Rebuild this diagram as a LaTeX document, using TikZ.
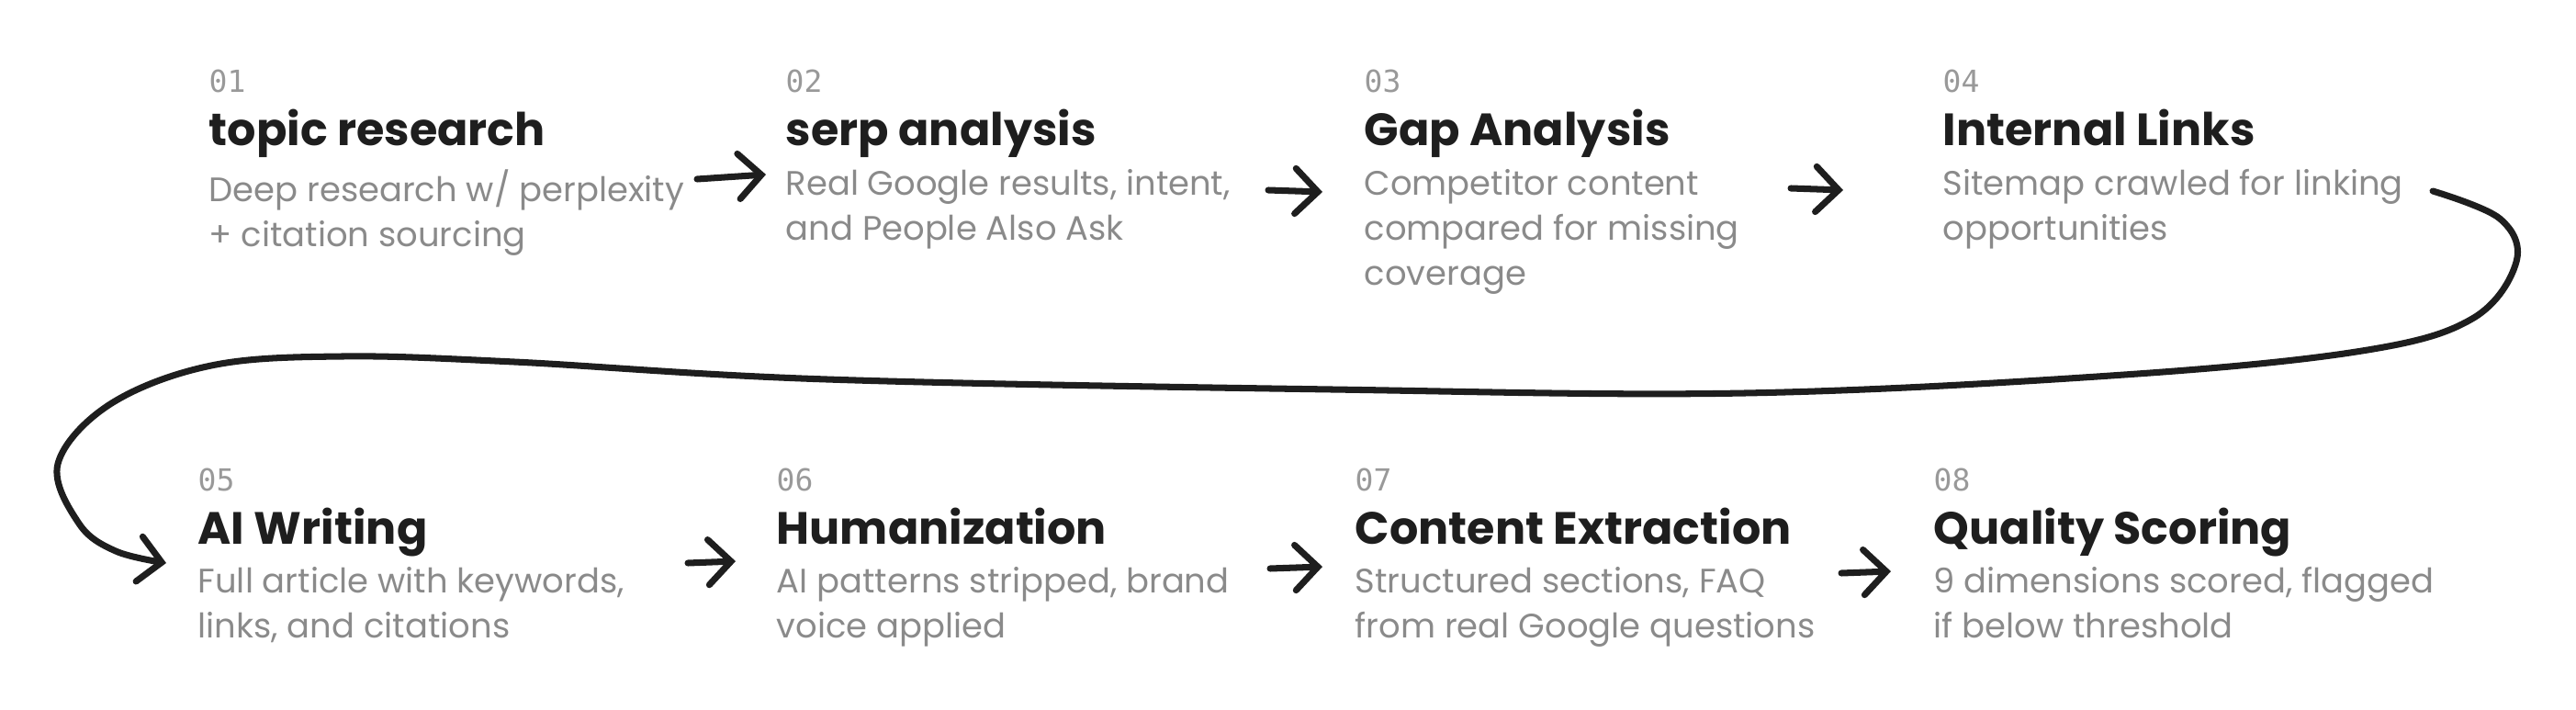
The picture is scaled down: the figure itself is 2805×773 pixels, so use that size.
\documentclass[tikz,border=0pt]{standalone}
\usepackage{fontspec}
\setmainfont{Poppins}
\newfontfamily\numfont{DejaVu Sans Mono}
\usetikzlibrary{arrows.meta}
\definecolor{inkblack}{HTML}{1E1E1E}
\definecolor{descgray}{HTML}{8A8A8A}
\definecolor{numgray}{HTML}{999999}

\tikzset{
  stepnum/.style={anchor=base west, inner sep=0pt, text=numgray,
    font=\numfont\fontsize{9.4}{11}\selectfont},
  steptitle/.style={anchor=base west, inner sep=0pt, text=inkblack,
    font=\bfseries\fontsize{14}{17}\selectfont},
  stepdesc/.style={anchor=north west, inner sep=0pt, align=left, text=descgray,
    font=\fontsize{10.5}{13.9}\selectfont, execute at begin node=\strut},
  flow/.style={draw=inkblack, line width=2pt, line cap=round, line join=round,
    -{Straight Barb[length=7pt, width=14pt, line cap=round]}}
}

\begin{document}
\begin{tikzpicture}[x=0.01cm, y=-0.01cm]
    \useasboundingbox (0,0) rectangle (2805,773);
    % steps: number, title, description (strut top = baseline - 34)
    \foreach \k/\px/\py/\ttl/\dsc in {
        01/227/0/{topic research}/{Deep research w/ perplexity\\+ citation sourcing},
        02/855/0/{serp analysis}/{Real Google results, intent,\\and People Also Ask},
        03/1485/0/{Gap Analysis}/{Competitor content\\compared for missing\\coverage},
        04/2115/0/{Internal Links}/{Sitemap crawled for linking\\opportunities},
        05/215/433/{AI Writing}/{Full article with keywords,\\links, and citations},
        06/845/433/{Humanization}/{AI patterns stripped, brand\\voice applied},
        07/1475/433/{Content Extraction}/{Structured sections, FAQ\\from real Google questions},
        08/2105/433/{Quality Scoring}/{9 dimensions scored, flagged\\if below threshold}}
    {
        \node[stepnum] (n\k) at (\px,{\py+101}) {\k};
        \node[steptitle] (t\k) at (\px,{\py+159}) {\ttl};
        \node[stepdesc] (d\k) at (\px,{\py+184}) {\dsc};
    }
    % arrow ends
    \coordinate (a12s) at (759,195); \coordinate (a12e) at (834,190);
    \coordinate (a23s) at (1381,207); \coordinate (a23e) at (1440,209);
    \coordinate (a34s) at (1950,205); \coordinate (a34e) at (2007,207);
    \coordinate (a56s) at (749,613); \coordinate (a56e) at (801,611);
    \coordinate (a67s) at (1383,619); \coordinate (a67e) at (1440,617);
    \coordinate (a78s) at (2005,624); \coordinate (a78e) at (2059,622);
    \coordinate (c4s) at (2649,208); \coordinate (c5e) at (181,613);
    \draw[flow] (a12s) -- (a12e);
    \draw[flow] (a23s) -- (a23e);
    \draw[flow] (a34s) -- (a34e);
    \draw[flow] (a56s) -- (a56e);
    \draw[flow] (a67s) -- (a67e);
    \draw[flow] (a78s) -- (a78e);
    % wrap-around from step 4 to step 5
    \draw[flow] plot[smooth, tension=0.6] coordinates {(c4s) (2722,238) (2740,285)
        (2692,347) (2572,382) (2313,408) (1900,428) (1450,424) (900,413)
        (560,394) (373,388) (230,398) (120,440) (63,505) (86,570) (126,600) (c5e)};
\end{tikzpicture}
\end{document}
